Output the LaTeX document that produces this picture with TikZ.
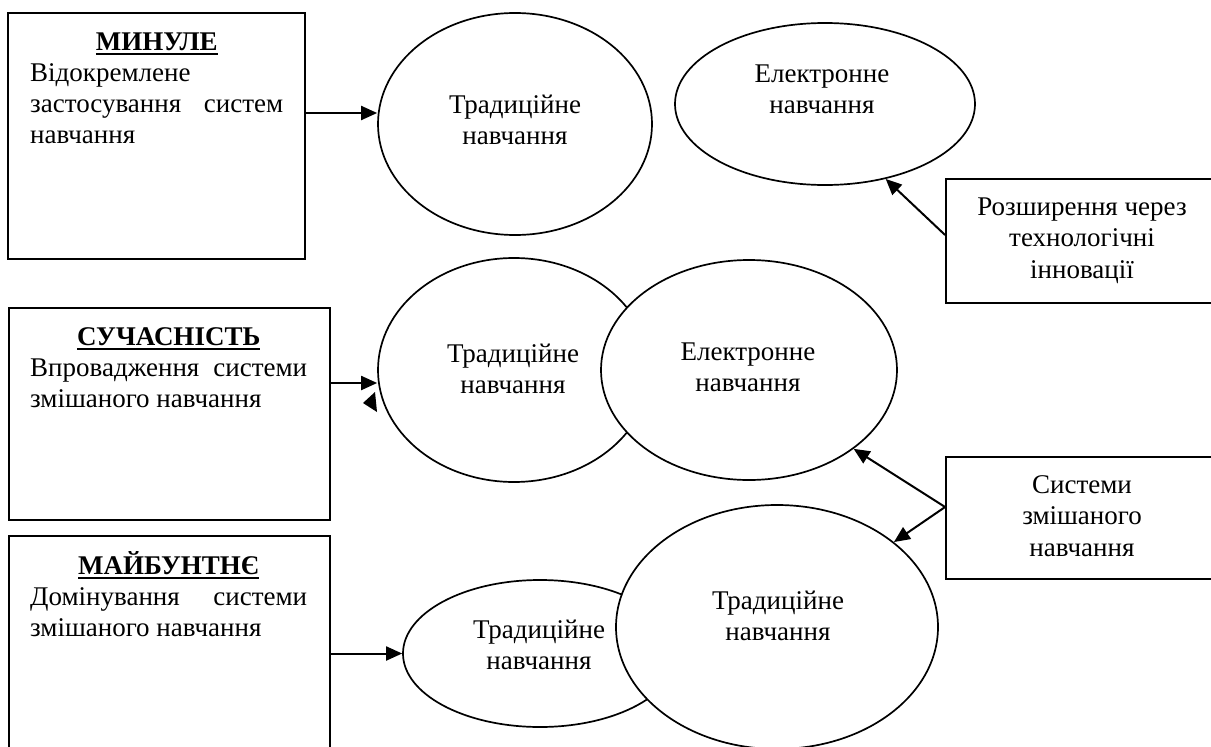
\documentclass[tikz,border=0pt]{standalone}
\usepackage{fontspec}
\setmainfont{Liberation Serif}
\usetikzlibrary{arrows.meta,shapes.geometric}
\newcommand{\myul}[1]{\setbox0\hbox{#1}\rlap{\rule[-4.5pt]{\wd0}{2.2pt}}\box0}
\begin{document}
\begin{tikzpicture}[x=1pt,y=-1pt,
 box/.style={draw,line width=1.8pt,rectangle,inner sep=0pt},
 oval/.style={draw,line width=1.7pt,ellipse,inner sep=0pt,fill=white},
 btxt/.style={inner sep=0pt,anchor=north west,align=left,font=\fontsize{27pt}{31pt}\selectfont},
 ctxt/.style={inner sep=0pt,anchor=north,align=center,font=\fontsize{27pt}{31.5pt}\selectfont},
 arr/.style={line width=2pt,-{Triangle[length=16pt,width=14pt]}}]
\useasboundingbox (0,0) rectangle (1211,747);
\clip (0,0) rectangle (1211,747);

% boxes
\node[box,minimum width=297pt,minimum height=246pt] (b1) at (156.5,136) {};
\node[box,minimum width=321pt,minimum height=212pt] (b2) at (169.5,414) {};
\node[box,minimum width=321pt,minimum height=234pt] (b3) at (169.5,653) {};
\node[box,minimum width=274pt,minimum height=124pt] (b4) at (1083,241) {};
\node[box,minimum width=274pt,minimum height=122pt] (b5) at (1083,518) {};

% ellipses
\node[oval,minimum width=274pt,minimum height=222pt] (e1) at (515,124) {};
\node[oval,minimum width=300pt,minimum height=162pt] (e2) at (825,104) {};
\node[oval,minimum width=272pt,minimum height=224pt] (e3) at (514,370) {};
\node[oval,minimum width=296pt,minimum height=220pt] (e4) at (749,370) {};
\node[oval,minimum width=274pt,minimum height=147pt] (e6) at (540,653.5) {};
\node[oval,minimum width=322pt,minimum height=244pt] (e5) at (777,627) {};

% box texts
\node[btxt] (t1) at (30,28.3) {\strut\makebox[253pt][c]{\bfseries\myul{МИНУЛЕ}}\\
 \makebox[253pt][l]{Відокремлене}\\
 \makebox[253pt][s]{застосування систем}\\
 \makebox[253pt][l]{навчання}};
\node[btxt] (t2) at (30,323.3) {\strut\makebox[277pt][c]{\bfseries\myul{СУЧАСНІСТЬ}}\\
 \makebox[277pt][s]{Впровадження системи}\\
 \makebox[277pt][l]{змішаного навчання}};
\node[btxt] (t3) at (30,551.3) {\strut\makebox[277pt][c]{\bfseries\myul{МАЙБУНТНЄ}}\\
 \makebox[277pt][s]{Домінування системи}\\
 \makebox[277pt][l]{змішаного навчання}};
\node[ctxt] (t4) at (1082,193) {\strut Розширення через\\технологічні\\інновації};
\node[ctxt] (t5) at (1082,471) {\strut Системи\\змішаного\\навчання};

% ellipse texts
\node[ctxt] (l1) at (515,91) {\strut Традиційне\\навчання};
\node[ctxt] (l2) at (822,60) {\strut Електронне\\навчання};
\node[ctxt] (l3) at (513,340) {\strut Традиційне\\навчання};
\node[ctxt] (l4) at (748,338) {\strut Електронне\\навчання};
\node[ctxt] (l5) at (778,587) {\strut Традиційне\\навчання};
\node[ctxt] (l6) at (539,616) {\strut Традиційне\\навчання};

% arrows
\draw[arr] (b1.east |- 0,113) -- (e1.west |- 0,113);
\draw[arr] (b2.east |- 0,383) -- (e3.west |- 0,383);
\draw[arr] (b3.east |- e6.west) -- (e6.west);
\draw[arr] (b4.west |- 0,235) -- (e2.-51.3);
\draw[arr] (b5.west |- 0,507) -- (e4.-37);
\draw[arr] (b5.west |- 0,507) -- (e5.36.5);
\fill (363,403) -- (375,392) -- (377,412) -- cycle;
\end{tikzpicture}
\end{document}
